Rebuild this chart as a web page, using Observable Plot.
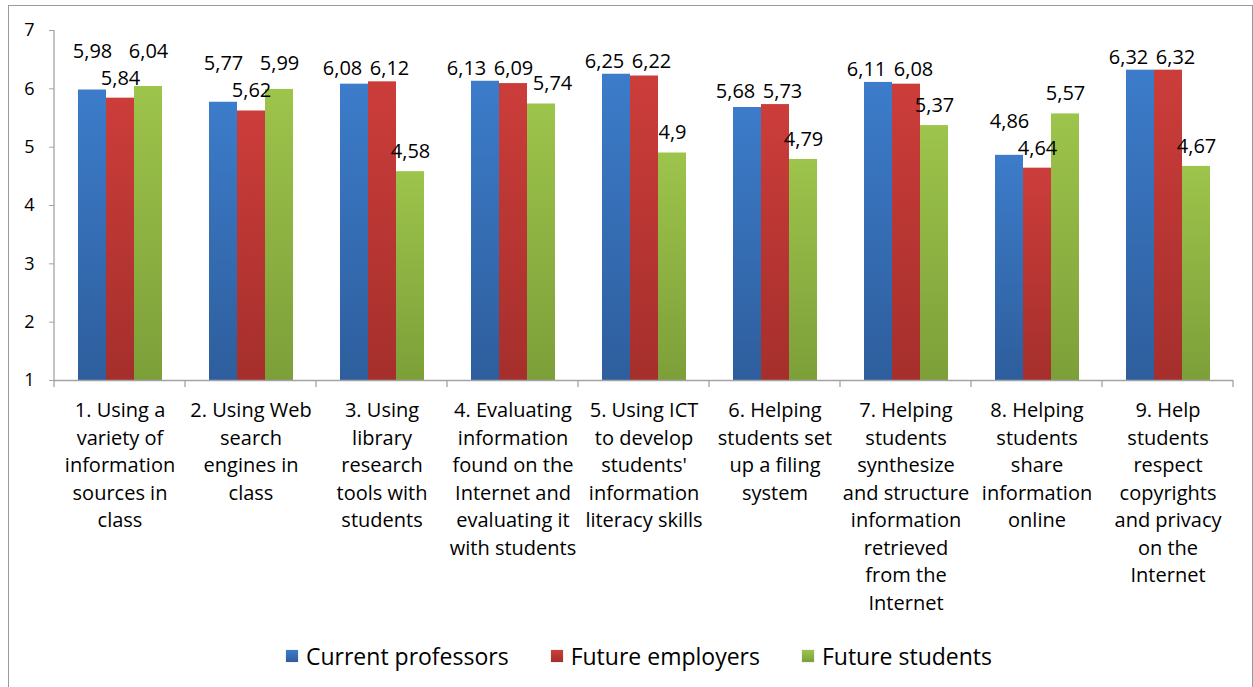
<!DOCTYPE html>
<html><head><meta charset="utf-8">
<script src="https://cdn.jsdelivr.net/npm/d3@7"></script>
<script src="https://cdn.jsdelivr.net/npm/@observablehq/plot@0.6"></script>
<style>
html,body{margin:0;padding:0;background:#fff;}
body{width:1253px;height:687px;overflow:hidden;position:relative;font-family:"Open Sans",sans-serif;}
#frame{position:absolute;left:8px;top:5px;width:1243px;height:700px;border:1px solid #9a9a9a;}
#chart{position:absolute;left:0;top:0;}
#legend{position:absolute;left:40px;width:1180px;top:634px;display:flex;justify-content:center;align-items:center;gap:42px;font-family:"Open Sans",sans-serif;font-size:23px;color:#000;}
.item{display:flex;align-items:center;}
.sw{width:12px;height:12px;margin-right:8px;box-shadow:0 0 1px rgba(0,0,0,.3);}
</style></head>
<body>
<div id="frame"><div id="chart"></div><div id="legend"></div></div>
<script>
// ---- data ----
const categories = [
  "1. Using a\nvariety of\ninformation\nsources in\nclass",
  "2. Using Web\nsearch\nengines in\nclass",
  "3. Using\nlibrary\nresearch\ntools with\nstudents",
  "4. Evaluating\ninformation\nfound on the\nInternet and\nevaluating it\nwith students",
  "5. Using ICT\nto develop\nstudents'\ninformation\nliteracy skills",
  "6. Helping\nstudents set\nup a filing\nsystem",
  "7. Helping\nstudents\nsynthesize\nand structure\ninformation\nretrieved\nfrom the\nInternet",
  "8. Helping\nstudents\nshare\ninformation\nonline",
  "9. Help\nstudents\nrespect\ncopyrights\nand privacy\non the\nInternet"
];
const series = ["Current professors", "Future employers", "Future students"];
const currentProfessors = [5.98, 5.77, 6.08, 6.13, 6.25, 5.68, 6.11, 4.86, 6.32];
const futureEmployers   = [5.84, 5.62, 6.12, 6.09, 6.22, 5.73, 6.08, 4.64, 6.32];
const futureStudents    = [6.04, 5.99, 4.58, 5.74, 4.90, 4.79, 5.37, 5.57, 4.67];
const yTicks = [1, 2, 3, 4, 5, 6, 7];
const seriesTop = ["#3c7cca", "#cc3d3a", "#9dc44b"];
const seriesBottom = ["#2e5e9d", "#a52f2c", "#7d9f39"];

// ---- layout ----
const W = 1243, H = 615, mL = 44, mR = 19, mT = 24, mB = 241;
const padOuter = 0.76;
const ppu = (H - mT - mB) / (yTicks[yTicks.length-1] - yTicks[0]);
const facetW = (W - mL - mR) / categories.length;
const step = facetW / (series.length + 2 * padOuter);
const labelW = 41, labelH = 24;

const seriesValues = [currentProfessors, futureEmployers, futureStudents];
const data = [];
categories.forEach((c, ci) => series.forEach((s, si) => data.push({cat: c, series: s, value: seriesValues[si][ci]})));

// label placement (avoid overlaps between neighbouring value labels)
const labels = [];
categories.forEach((c, ci) => {
  const L = series.map((s, si) => ({cat: c, series: s, value: seriesValues[si][ci], lift: 20, shift: 0, side: false}));
  // nearly equal neighbours: put side by side, same height
  for (let i = 0; i < L.length - 1; i++) {
    const a = L[i], b = L[i+1];
    if (!a.side && !b.side && Math.abs(a.value - b.value) <= 0.1) {
      const hi = Math.max(a.value, b.value);
      a.lift = (hi - a.value) * ppu + 13; b.lift = (hi - b.value) * ppu + 13;
      a.shift = -12; b.shift = 7; a.side = b.side = true; a.pair = i; b.pair = i;
    }
  }
  const up = d => d.value * ppu + d.lift;
  for (let i = 0; i < L.length - 1; i++) {
    const a = L[i], b = L[i+1];
    const dx = step + b.shift - a.shift;
    if (Math.abs(dx) < labelW && Math.abs(up(a) - up(b)) < labelH) {
      if (a.side !== b.side) {
        const pair = L.filter(d => d.side);
        if (b.side) { pair.forEach(d => d.shift += 7); a.shift -= 11; }
        else { pair.forEach(d => d.shift -= 7); b.shift += 11; }
      } else if (!a.side) {
        if (up(a) > up(b)) a.lift = up(b) + 27 - a.value * ppu;
        else b.lift = up(a) + 27 - b.value * ppu;
      }
    }
  }
  L.forEach(d => labels.push({cat: d.cat, series: d.series, value: d.value, ly: d.value + d.lift / ppu, shift: d.shift}));
});
const shifts = [...new Set(labels.map(d => d.shift))];
const fmt = v => String(v).replace(".", ",");

const plot = Plot.plot({
  width: W, height: H,
  marginLeft: mL, marginRight: mR, marginTop: mT, marginBottom: mB,
  style: {fontFamily: "'Open Sans', sans-serif", fontSize: "20px", color: "#000", background: "transparent", overflow: "visible"},
  fx: {domain: categories, padding: 0, label: null},
  x: {domain: series, paddingInner: 0, paddingOuter: padOuter, axis: null},
  y: {domain: [yTicks[0], yTicks[yTicks.length-1]], axis: null},
  color: {domain: series, range: ["url(#g0)", "url(#g1)", "url(#g2)"]},
  marks: [
    Plot.barY(data, {fx: "cat", x: "series", y1: yTicks[0], y2: "value", fill: "series", inset: 0}),
    Plot.ruleY([yTicks[0]], {stroke: "#a3a3a3", strokeWidth: 1.3}),
    Plot.axisY({ticks: yTicks, tickFormat: d => String(d), tickSize: 5, tickPadding: 15, stroke: "#a3a3a3", fontSize: 18, label: null}),
    Plot.axisFx({anchor: "bottom", tickSize: 0, tickPadding: 17, fontSize: 20, lineHeight: 1.375, label: null}),
    ...shifts.map(s => Plot.text(labels.filter(d => d.shift === s), {fx: "cat", x: "series", y: "ly", text: d => fmt(d.value), dx: s, fontSize: 20, fill: "#000"}))
  ]
});

// gradients for bar fills
const svg = d3.select(plot);
const defs = svg.insert("defs", ":first-child");
series.forEach((s, i) => {
  const g = defs.append("linearGradient").attr("id", "g" + i).attr("x1", 0).attr("y1", 0).attr("x2", 0).attr("y2", 1);
  g.append("stop").attr("offset", "0%").attr("stop-color", seriesTop[i]);
  g.append("stop").attr("offset", "100%").attr("stop-color", seriesBottom[i]);
});

// y-axis line and category separator ticks, from Plot's own scales
try {
  const fx = plot.scale("fx"), y = plot.scale("y");
  const y0 = y.apply(yTicks[0]), y1 = y.apply(yTicks[yTicks.length-1]);
  const g = svg.append("g").attr("stroke", "#a3a3a3").attr("stroke-width", 1.3);
  const x0 = fx.apply(categories[0]);
  g.append("line").attr("x1", x0).attr("x2", x0).attr("y1", y0).attr("y2", y1);
  const bounds = categories.map(c => fx.apply(c)).concat([fx.apply(categories[categories.length-1]) + fx.bandwidth]);
  bounds.forEach(b => g.append("line").attr("x1", b).attr("x2", b).attr("y1", y0).attr("y2", y0 + 7));
} catch (e) { console.error(e); }

document.getElementById("chart").appendChild(plot);

// legend
const leg = d3.select("#legend");
series.forEach((s, i) => {
  const it = leg.append("div").attr("class", "item");
  it.append("div").attr("class", "sw").style("background", `linear-gradient(${seriesTop[i]}, ${seriesBottom[i]})`);
  it.append("span").text(s);
});
</script>
</body></html>
